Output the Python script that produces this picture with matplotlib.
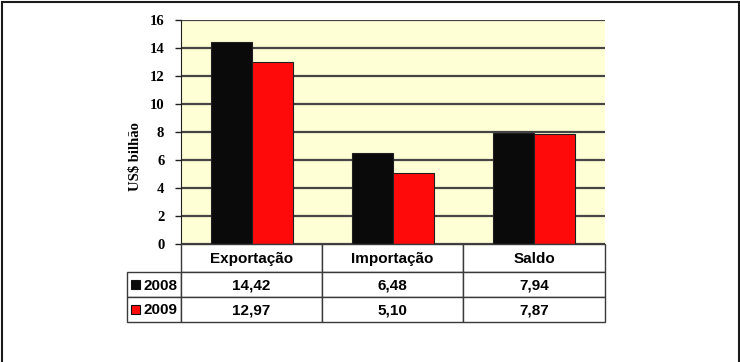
import matplotlib.pyplot as plt
from matplotlib.patches import Rectangle
import numpy as np

# Data #######################################################################

categorias = ['Exportação', 'Importação', 'Saldo']
anos = ['2008', '2009']
v2008 = [14.42, 6.48, 7.94]
v2009 = [12.97, 5.10, 7.87]
cores = ['#0a0a0a', '#ff0a0a']

# Plot #######################################################################

W, H = 740, 362
fig = plt.figure(figsize=(W/100, H/100), dpi=100)

# frame around the whole picture (open at the bottom)
fig.patches.append(Rectangle((1.5/W, -0.05), (W-3)/W, 1.05 - 1.5/H, transform=fig.transFigure,
                             fill=False, edgecolor='#1a1a1a', linewidth=1.5))

AX_L, AX_T, AX_W, AX_H = 181, 20, 424, 224
ax = fig.add_axes([AX_L/W, (H-AX_T-AX_H)/H, AX_W/W, AX_H/H])
ax.set_facecolor('#ffffd6')

x = np.arange(len(categorias))
bw = 0.29
for i, (vals, cor) in enumerate(zip([v2008, v2009], cores)):
    ax.bar(x + (i - 0.5)*bw, vals, bw, color=cor, edgecolor='#202020',
           linewidth=0.8, zorder=3)

ax.set_xlim(-0.5, 2.5)
ax.set_ylim(0, 16)
ax.set_yticks(range(0, 17, 2))
ax.set_xticks([])
ax.yaxis.grid(True, color='#454545', linewidth=1.6, zorder=1)
ax.tick_params(axis='y', length=4, width=1, color='#202020', pad=8)
for lab in ax.get_yticklabels():
    lab.set_fontfamily('Liberation Serif')
    lab.set_fontweight('bold')
    lab.set_fontsize(10.5)
for s in ['top', 'right', 'bottom']:
    ax.spines[s].set_visible(False)
ax.spines['left'].set_color('#202020')
ax.set_ylabel('US$ bilhão', fontfamily='Liberation Serif', fontweight='bold',
              fontsize=10.5)
ax.yaxis.set_label_coords(-0.092, 0.39)

# Data table (drawn by hand below the axes, pixel layout -> axes coords) ####

def ax_x(px):
    return (px - AX_L) / AX_W

def ax_y(py):
    return (AX_T + AX_H - py) / AX_H

col_x = [127, 181, 322, 463, 605]
row_y = [244, 272, 297, 322]
linhas = [v2008, v2009]

def celula(x0, x1, y0, y1):
    ax.add_patch(Rectangle((ax_x(x0), ax_y(y1)), ax_x(x1) - ax_x(x0), ax_y(y0) - ax_y(y1),
                           transform=ax.transAxes, clip_on=False, facecolor='white',
                           edgecolor='#3a3a3a', linewidth=1.0, zorder=4))

def texto(px, py, s, ha='center'):
    ax.text(ax_x(px), ax_y(py), s, transform=ax.transAxes, ha=ha, va='center',
            fontfamily='Liberation Sans', fontweight='bold', fontsize=11,
            clip_on=False, zorder=5)

for j, cat in enumerate(categorias):
    celula(col_x[j+1], col_x[j+2], row_y[0], row_y[1])
    texto((col_x[j+1] + col_x[j+2]) / 2, (row_y[0] + row_y[1]) / 2 + 1, cat)

for i, (ano, vals) in enumerate(zip(anos, linhas)):
    y0, y1 = row_y[i+1], row_y[i+2]
    yc = (y0 + y1) / 2 + 1
    celula(col_x[0], col_x[1], y0, y1)
    texto(col_x[1] - 4, yc, ano, ha='right')
    ax.add_patch(Rectangle((ax_x(131), ax_y(yc - 1 + 4.5)), 9/AX_W, 9/AX_H,
                           transform=ax.transAxes, clip_on=False, facecolor=cores[i],
                           edgecolor='#101010', linewidth=0.8, zorder=5))
    for j, v in enumerate(vals):
        celula(col_x[j+1], col_x[j+2], y0, y1)
        texto((col_x[j+1] + col_x[j+2]) / 2, yc, ('%.2f' % v).replace('.', ','))

plt.savefig('out.png', dpi=100)
